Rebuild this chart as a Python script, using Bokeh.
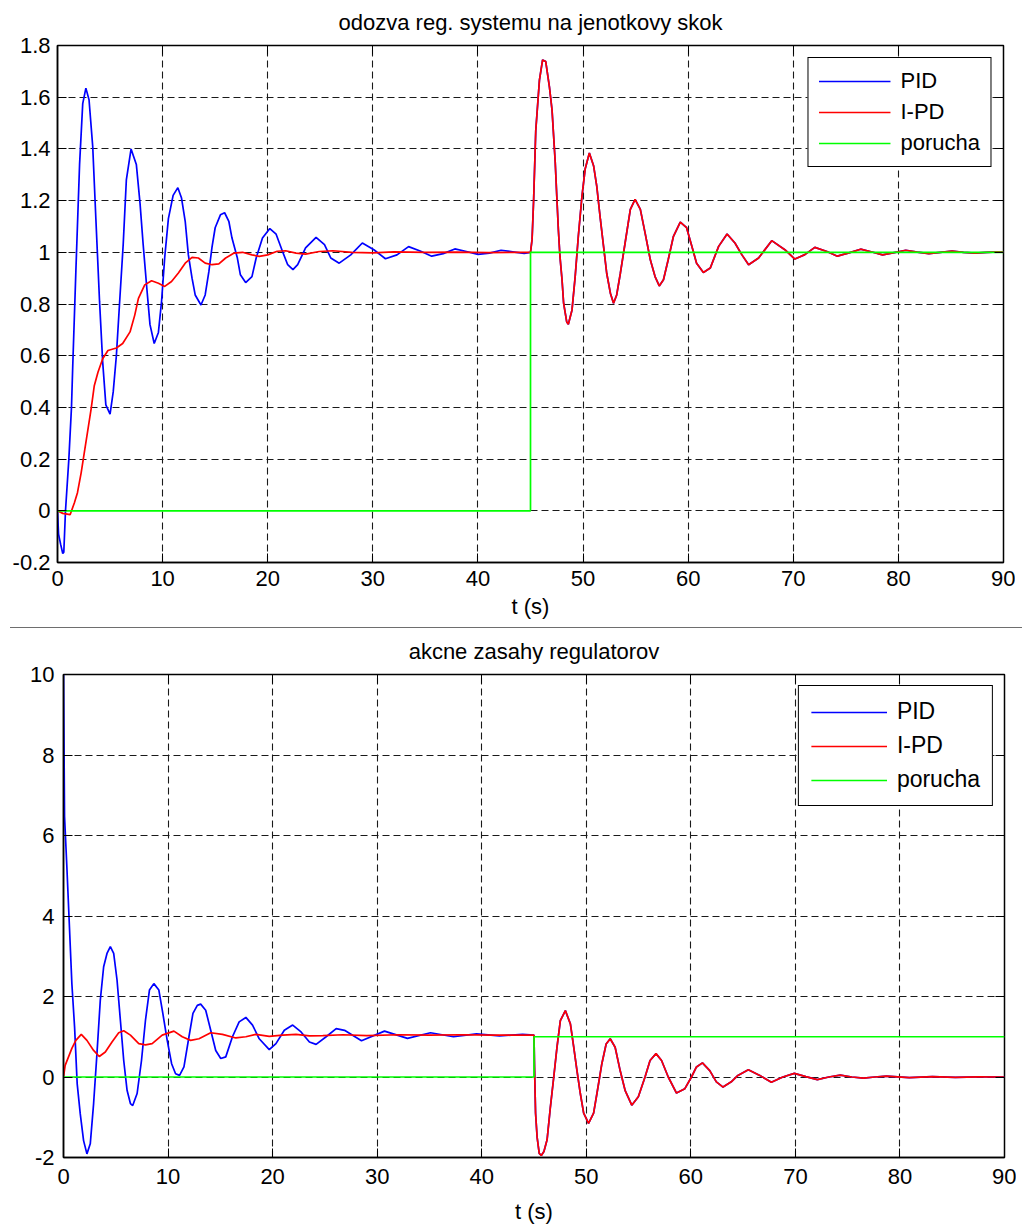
from bokeh.plotting import figure
from bokeh.models import Range1d, FixedTicker, LinearAxis, Legend, LegendItem, Div
from bokeh.embed import file_html
from bokeh.resources import INLINE

# ---------------- data ----------------
x_ticks = [0, 10, 20, 30, 40, 50, 60, 70, 80, 90]
y1_ticks = [-0.2, 0, 0.2, 0.4, 0.6, 0.8, 1, 1.2, 1.4, 1.6, 1.8]
y1_labels = ["-0.2", "0", "0.2", "0.4", "0.6", "0.8", "1", "1.2", "1.4", "1.6", "1.8"]
y2_ticks = [-2, 0, 2, 4, 6, 8, 10]
y2_labels = ["-2", "0", "2", "4", "6", "8", "10"]

series_names = ["PID", "I-PD", "porucha"]
title_top = "odozva reg. systemu na jenotkovy skok"
title_bottom = "akcne zasahy regulatorov"
x_label = "t (s)"

# step response, PID, 0..45 s  (t, y)
pid_step = [(0, 0), (0.1, -0.09), (0.3, -0.13), (0.5, -0.165), (0.6, -0.16), (0.76, 0.0),
            (1.08, 0.2), (1.33, 0.4), (1.45, 0.56), (1.75, 0.93), (2.1, 1.34), (2.4, 1.575),
            (2.7, 1.635), (3.0, 1.59), (3.35, 1.41), (3.65, 1.13), (4.0, 0.81), (4.3, 0.575),
            (4.6, 0.41), (5.0, 0.374), (5.3, 0.46), (5.6, 0.60), (5.9, 0.80), (6.25, 1.03),
            (6.55, 1.28), (7.0, 1.40), (7.5, 1.34), (7.85, 1.19), (8.15, 1.03), (8.5, 0.86),
            (8.8, 0.72), (9.2, 0.647), (9.6, 0.69), (9.9, 0.81), (10.2, 0.98), (10.55, 1.13),
            (11.0, 1.22), (11.45, 1.25), (11.8, 1.21), (12.15, 1.12), (12.45, 0.99), (12.8, 0.90),
            (13.1, 0.835), (13.65, 0.796), (14.05, 0.835), (14.4, 0.925), (14.7, 1.02), (15.0, 1.095),
            (15.5, 1.145), (15.9, 1.153), (16.3, 1.12), (16.6, 1.055), (17.1, 0.98), (17.4, 0.913),
            (17.9, 0.883), (18.5, 0.906), (18.9, 0.978), (19.5, 1.055), (20.2, 1.092), (20.8, 1.07),
            (21.4, 1.004), (21.9, 0.952), (22.4, 0.933), (22.85, 0.952), (23.6, 1.017), (24.6, 1.058),
            (25.4, 1.03), (26.0, 0.978), (26.8, 0.958), (27.9, 0.99), (29.0, 1.036), (30.1, 1.01),
            (31.2, 0.975), (32.3, 0.99), (33.4, 1.022), (34.5, 1.005), (35.6, 0.985), (36.7, 0.995),
            (37.8, 1.013), (38.9, 1.003), (40.0, 0.992), (41.1, 0.997), (42.2, 1.008), (43.3, 1.002),
            (44.4, 0.996), (45.0, 1.0)]

# step response, I-PD, 0..45 s
ipd_step = [(0, 0), (0.5, -0.01), (1.2, -0.015), (1.6, 0.03), (1.9, 0.07), (2.25, 0.147),
            (2.55, 0.225), (2.9, 0.316), (3.2, 0.394), (3.5, 0.484), (3.85, 0.536), (4.3, 0.588),
            (4.8, 0.62), (5.6, 0.63), (6.2, 0.647), (6.9, 0.692), (7.35, 0.757), (7.7, 0.822),
            (8.3, 0.874), (8.95, 0.89), (9.6, 0.88), (10.2, 0.868), (10.85, 0.887), (11.5, 0.92),
            (12.15, 0.958), (12.8, 0.98), (13.4, 0.978), (14.05, 0.958), (14.7, 0.952), (15.35, 0.955),
            (16.0, 0.978), (16.8, 0.997), (17.6, 1.0), (18.5, 0.99), (19.2, 0.984), (20.0, 0.99),
            (20.9, 1.004), (21.7, 1.006), (22.7, 0.997), (23.6, 0.993), (24.9, 1.003), (26.2, 1.006),
            (28, 1.0), (30, 0.998), (32, 1.002), (35, 1.0), (38, 1.001), (41, 0.999), (45, 1.0)]

# response to the disturbance, 45..90 s (both controllers coincide)
dist_step = [(45.0, 1.0), (45.15, 1.05), (45.3, 1.205), (45.5, 1.47), (45.85, 1.666), (46.15, 1.744),
             (46.45, 1.738), (46.8, 1.64), (47.05, 1.55), (47.2, 1.45), (47.35, 1.35), (47.5, 1.218),
             (47.65, 1.088), (47.8, 0.985), (48.0, 0.894), (48.15, 0.803), (48.45, 0.73), (48.6, 0.722),
             (48.95, 0.777), (49.25, 0.906), (49.55, 1.062), (49.9, 1.218), (50.2, 1.322), (50.6, 1.384),
             (51.0, 1.335), (51.3, 1.257), (51.65, 1.127), (51.95, 1.023), (52.25, 0.919), (52.6, 0.842),
             (52.9, 0.803), (53.2, 0.835), (53.55, 0.919), (54.0, 1.036), (54.5, 1.166), (54.95, 1.205),
             (55.45, 1.166), (55.9, 1.075), (56.4, 0.971), (56.85, 0.906), (57.25, 0.87), (57.65, 0.894),
             (58.1, 0.971), (58.6, 1.062), (59.25, 1.117), (59.85, 1.095), (60.35, 1.023), (60.8, 0.958),
             (61.45, 0.922), (62.1, 0.939), (62.9, 1.023), (63.7, 1.071), (64.45, 1.036), (65.1, 0.991),
             (65.75, 0.952), (66.7, 0.978), (67.95, 1.045), (69.2, 1.01), (70.15, 0.974), (71.1, 0.991),
             (72.05, 1.019), (73.2, 1.003), (74.2, 0.985), (75.3, 0.998), (76.4, 1.012), (77.4, 1.002),
             (78.5, 0.99), (79.6, 0.999), (80.7, 1.008), (81.8, 1.001), (82.9, 0.995), (84.0, 1.0),
             (85.1, 1.005), (86.2, 1.0), (87.3, 0.997), (88.4, 1.0), (89.5, 1.002), (90.0, 1.001)]

# controller output, PID, 0..45 s
pid_u = [(0, 10.0), (0.1, 6.47), (0.32, 5.23), (0.54, 3.9), (0.8, 2.32), (1.06, 1.24), (1.31, -0.17),
         (1.6, -0.91), (1.92, -1.58), (2.24, -1.91), (2.56, -1.66), (2.88, -0.66), (3.2, 0.58),
         (3.52, 1.91), (3.84, 2.74), (4.16, 3.07), (4.48, 3.24), (4.8, 3.07), (5.12, 2.41), (5.44, 1.41),
         (5.76, 0.41), (6.08, -0.33), (6.4, -0.66), (6.62, -0.71), (7.04, -0.41), (7.46, 0.41),
         (7.84, 1.41), (8.22, 2.16), (8.64, 2.32), (9.12, 2.16), (9.5, 1.58), (9.92, 0.91), (10.34, 0.33),
         (10.72, 0.08), (11.1, 0.04), (11.52, 0.25), (12.0, 1.0), (12.38, 1.58), (12.8, 1.78),
         (13.12, 1.81), (13.6, 1.66), (14.08, 1.16), (14.56, 0.66), (15.04, 0.46), (15.52, 0.5),
         (16.16, 1.0), (16.8, 1.37), (17.44, 1.48), (18.08, 1.29), (18.72, 0.95), (19.68, 0.68),
         (20.32, 0.83), (21.12, 1.16), (21.92, 1.29), (22.72, 1.12), (23.52, 0.87), (24.16, 0.81),
         (25.12, 1.0), (26.08, 1.2), (26.88, 1.16), (28.5, 0.9), (30.7, 1.14), (32.9, 0.96),
         (35.1, 1.1), (37.3, 1.0), (39.5, 1.07), (41.7, 1.02), (43.9, 1.06), (45.0, 1.04)]

# controller output, I-PD, 0..45 s
ipd_u = [(0, 0.0), (0.16, 0.29), (0.48, 0.5), (0.8, 0.71), (1.18, 0.91), (1.7, 1.06), (2.24, 0.91),
         (2.88, 0.66), (3.42, 0.51), (4.0, 0.62), (4.64, 0.87), (5.28, 1.1), (5.76, 1.15), (6.4, 1.04),
         (7.2, 0.83), (7.84, 0.8), (8.48, 0.83), (9.44, 1.04), (10.56, 1.14), (11.36, 1.0),
         (12.16, 0.91), (12.96, 0.95), (14.08, 1.1), (15.2, 1.06), (16.48, 0.97), (17.44, 1.0),
         (18.4, 1.06), (19.68, 1.01), (20.96, 1.04), (22.24, 1.06), (23.52, 1.02), (24.8, 1.03),
         (26.72, 1.05), (29, 1.03), (32, 1.05), (35, 1.04), (38, 1.05), (41, 1.04), (45, 1.04)]

# controller output after the disturbance, 45..90 s (both controllers coincide)
dist_u = [(45.0, 1.04), (45.05, 0.25), (45.15, -0.9), (45.3, -1.5), (45.5, -1.9), (45.7, -1.95),
          (45.95, -1.85), (46.25, -1.56), (46.57, -0.74), (46.89, 0.0), (47.2, 0.74), (47.52, 1.4),
          (48.0, 1.65), (48.48, 1.32), (48.8, 0.74), (49.11, 0.16), (49.43, -0.41), (49.75, -0.9),
          (50.22, -1.15), (50.7, -0.9), (51.02, -0.41), (51.49, 0.33), (51.9, 0.82), (52.29, 0.95),
          (52.76, 0.74), (53.24, 0.16), (53.71, -0.33), (54.35, -0.7), (54.98, -0.49), (55.62, 0.0),
          (56.1, 0.41), (56.67, 0.58), (57.2, 0.41), (57.84, 0.0), (58.63, -0.4), (59.43, -0.29),
          (60.06, 0.0), (60.54, 0.25), (61.11, 0.35), (61.81, 0.16), (62.44, -0.12), (63.08, -0.25),
          (63.87, -0.12), (64.5, 0.04), (65.5, 0.18), (66.6, 0.04), (67.7, -0.13), (68.8, 0.0),
          (69.9, 0.09), (71.0, 0.01), (72.1, -0.065), (73.2, 0.0), (74.3, 0.045), (75.4, 0.0),
          (76.5, -0.03), (77.6, 0.0), (78.7, 0.02), (80.9, -0.015), (83.1, 0.01), (85.3, -0.007),
          (87.5, 0.004), (90.0, 0.0)]

# disturbance (porucha): unit step at 45 s
porucha_t = [0, 45, 45, 90]
porucha_v = [0, 0, 1, 1]

colors = ["#0000ff", "#ff0000", "#00ff00"]
FONT = "Liberation Sans"
FS = "22px"


def xs(pairs):
    return [a for a, _ in pairs]


def ys(pairs):
    return [b for _, b in pairs]


def make_panel(title, yr, yticks, ylabels, curves, frame_w, frame_h, borders, leg, stand):
    bl, br, bt, bb = borders
    title_so, ytick_so, xtick_so, xlab_so = stand
    p = figure(output_backend="svg", toolbar_location=None,
               frame_width=frame_w, frame_height=frame_h,
               x_range=Range1d(0, 90), y_range=Range1d(*yr),
               min_border_left=bl, min_border_right=br, min_border_top=bt, min_border_bottom=bb,
               background_fill_color="white", border_fill_color="white")
    p.title.text = title
    p.title.align = "center"
    p.title.vertical_align = "top"
    p.title.text_font = FONT
    p.title.text_font_size = FS
    p.title.text_font_style = "normal"
    p.title.text_color = "black"
    p.title.standoff = title_so

    p.outline_line_color = "black"
    p.outline_line_width = 1.5
    p.outline_line_alpha = 1

    for ax in (p.xaxis[0], p.yaxis[0]):
        ax.major_label_text_font = FONT
        ax.major_label_text_font_size = FS
        ax.major_label_text_color = "black"
        ax.axis_line_color = "black"
        ax.axis_line_width = 1.5
        ax.major_tick_in = 9
        ax.major_tick_out = 0
        ax.major_tick_line_color = "black"
        ax.minor_tick_line_color = None
    p.yaxis.major_label_standoff = ytick_so
    p.xaxis.major_label_standoff = xtick_so
    p.xaxis.ticker = FixedTicker(ticks=x_ticks)
    p.yaxis.ticker = FixedTicker(ticks=yticks)
    p.yaxis.major_label_overrides = {t: s for t, s in zip(yticks, ylabels)}
    p.xaxis.axis_label = x_label
    p.xaxis.axis_label_text_font = FONT
    p.xaxis.axis_label_text_font_size = FS
    p.xaxis.axis_label_text_font_style = "normal"
    p.xaxis.axis_label_text_color = "black"
    p.xaxis.axis_label_standoff = xlab_so

    # mirrored tick marks (no labels) on the right and top edges
    for loc, tk in (("right", yticks), ("above", x_ticks)):
        ax = LinearAxis(ticker=FixedTicker(ticks=tk),
                        major_label_overrides={t: "" for t in tk},
                        major_label_text_font_size="1px",
                        major_label_standoff=0, axis_line_color=None, major_tick_in=9,
                        major_tick_out=0, major_tick_line_color="black", minor_tick_line_color=None)
        p.add_layout(ax, loc)

    for g in (p.xgrid[0], p.ygrid[0]):
        g.grid_line_color = "#1a1a1a"
        g.grid_line_dash = "7 4"
        g.grid_line_width = 1.1

    renderers = []
    for (tx, ty), c in zip(curves, colors):
        renderers.append(p.line(tx, ty, line_color=c, line_width=1.7))

    gw, sp, pad, mg, lfs, lso = leg
    legend = Legend(items=[LegendItem(label=n, renderers=[r]) for n, r in zip(series_names, renderers)],
                    location="top_right", margin=mg, padding=pad, spacing=sp,
                    glyph_width=gw, glyph_height=22, label_standoff=lso,
                    label_text_font=FONT, label_text_font_size=lfs, label_text_color="black",
                    border_line_color="black", border_line_width=1.2, border_line_alpha=1,
                    background_fill_color="white", background_fill_alpha=1)
    p.add_layout(legend)
    return p


pid_t_all = xs(pid_step) + xs(dist_step)[1:]
pid_y_all = ys(pid_step) + ys(dist_step)[1:]
ipd_t_all = xs(ipd_step) + xs(dist_step)[1:]
ipd_y_all = ys(ipd_step) + ys(dist_step)[1:]

pid_ut = xs(pid_u) + xs(dist_u)[1:]
pid_uy = ys(pid_u) + ys(dist_u)[1:]
ipd_ut = xs(ipd_u) + xs(dist_u)[1:]
ipd_uy = ys(ipd_u) + ys(dist_u)[1:]

p1 = make_panel(title_top, (-0.2, 1.8), y1_ticks, y1_labels,
                [(pid_t_all, pid_y_all), (ipd_t_all, ipd_y_all), (porucha_t, porucha_v)],
                946, 517, (57, 12, 45, 65), (72, 5, 10, 12, "22px", 10), (17, 7, 8, 5))
p2 = make_panel(title_bottom, (-2, 10), y2_ticks, y2_labels,
                [(pid_ut, pid_uy), (ipd_ut, ipd_uy), (porucha_t, porucha_v)],
                941, 483, (63, 12, 46, 66), (76, 7, 12, 11, "23px", 10), (18, 9, 11, 12))

sep = Div(text="", width=1012, height=1, margin=(0, 0, 0, 10),
          styles={"background-color": "#6e6e6e"})

open("out.html", "w").write(file_html([p1, sep, p2], INLINE))
